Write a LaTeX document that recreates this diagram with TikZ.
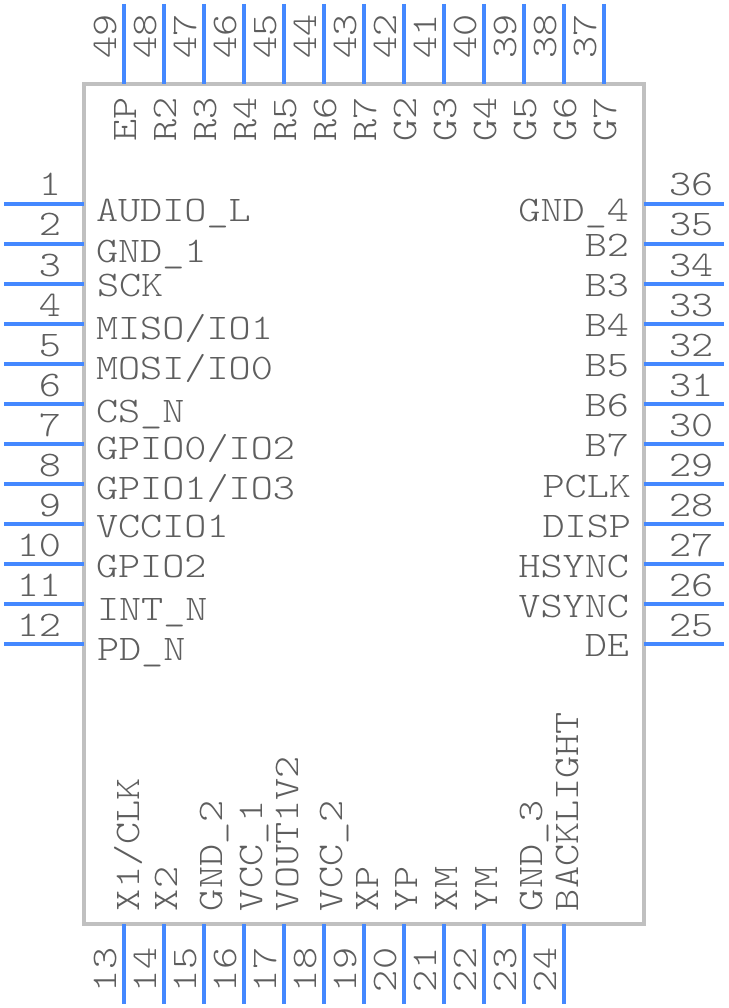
\documentclass[tikz,border=0pt]{standalone}
\usepackage{fontspec}
\setmonofont[FakeStretch=1.17]{Latin Modern Mono Light}
\definecolor{pinblue}{HTML}{4488FF}
\definecolor{bodygrey}{HTML}{C0C0C0}
\definecolor{txtgrey}{HTML}{5E5E5E}
\tikzset{
  pinline/.style={draw=pinblue,line width=4pt},
  bodybox/.style={draw=bodygrey,line width=4pt},
  lbl/.style={inner sep=0pt,outer sep=0pt,text=txtgrey,font=\fontsize{36}{36}\selectfont\ttfamily},
  lw/.style={lbl,anchor=base west},
  le/.style={lbl,anchor=base east},
  lv/.style={lbl,anchor=base west,rotate=90},
}
\begin{document}
\begin{tikzpicture}[x=1pt,y=-1pt]
\useasboundingbox (0,0) rectangle (728,1008);
\fill[white] (0,0) rectangle (728,1008);
\draw[bodybox] (84,84) rectangle (644,924);
% left pins 1-12
\foreach \n in {1,...,12}{
  \pgfmathtruncatemacro{\yy}{164+40*\n}
  \coordinate (la\n) at (4,\yy); \coordinate (lb\n) at (84,\yy);
  \draw[pinline] (la\n) -- (lb\n);
  \node[le] (ln\n) at (61,\yy-8) {\n};
}
% right pins 36-25
\foreach \n in {1,...,12}{
  \pgfmathtruncatemacro{\yy}{164+40*\n}
  \pgfmathtruncatemacro{\m}{37-\n}
  \coordinate (ra\n) at (644,\yy); \coordinate (rb\n) at (724,\yy);
  \draw[pinline] (ra\n) -- (rb\n);
  \node[lw] (rn\n) at (669,\yy-8) {\m};
}
% top pins 49-37 and bottom pins 13-24
\foreach \n in {0,...,12}{
  \pgfmathtruncatemacro{\xx}{124+40*\n}
  \pgfmathtruncatemacro{\m}{49-\n}
  \coordinate (ta\n) at (\xx,4); \coordinate (tb\n) at (\xx,84);
  \draw[pinline] (ta\n) -- (tb\n);
  \node[lv] (tn\n) at (\xx-8,59) {\m};
}
\foreach \n in {0,...,11}{
  \pgfmathtruncatemacro{\xx}{124+40*\n}
  \pgfmathtruncatemacro{\m}{13+\n}
  \coordinate (ba\n) at (\xx,924); \coordinate (bb\n) at (\xx,1004);
  \draw[pinline] (ba\n) -- (bb\n);
  \node[lv] (bn\n) at (\xx-8,992) {\m};
}
% left labels
\node[lw] (a1) at (96,222) {AUDIO\_L};
\node[lw] (a2) at (96,262) {GND\_1};
\node[lw] (a3) at (97,296) {SCK};
\node[lw] (a4) at (96,339) {MISO/IO1};
\node[lw] (a5) at (96,379) {MOSI/IO0};
\node[lw] (a6) at (96,422) {CS\_N};
\node[lw] (a7) at (96,459) {GPIO0/IO2};
\node[lw] (a8) at (96,499) {GPIO1/IO3};
\node[lw] (a9) at (96,537) {VCCIO1};
\node[lw] (a10) at (96,577) {GPIO2};
\node[lw] (a11) at (97,620) {INT\_N};
\node[lw] (a12) at (97,660) {PD\_N};
% right labels
\node[le] (b1) at (629,222) {GND\_4};
\node[le] (b2) at (629,256) {B2};
\node[le] (b3) at (629,296) {B3};
\node[le] (b4) at (629,336) {B4};
\node[le] (b5) at (629,376) {B5};
\node[le] (b6) at (629,416) {B6};
\node[le] (b7) at (629,456) {B7};
\node[le] (b8) at (631,497) {PCLK};
\node[le] (b9) at (631,537) {DISP};
\node[le] (b10) at (629,577) {HSYNC};
\node[le] (b11) at (629,617) {VSYNC};
\node[le] (b12) at (629,656) {DE};
% top labels
\foreach \n/\t in {0/EP,1/R2,2/R3,3/R4,4/R5,5/R6,6/R7,7/G2,8/G3,9/G4,10/G5,11/G6,12/G7}{
  \pgfmathtruncatemacro{\xx}{136+40*\n}
  \node[lv] (c\n) at (\xx,142) {\t};
}
% bottom labels
\node[lv] (d1) at (139,911) {X1/CLK};
\node[lv] (d2) at (177,911) {X2};
\node[lv] (d3) at (222,911) {GND\_2};
\node[lv] (d4) at (262,911) {VCC\_1};
\node[lv] (d5) at (298,911) {VOUT1V2};
\node[lv] (d6) at (342,911) {VCC\_2};
\node[lv] (d7) at (378,911) {XP};
\node[lv] (d8) at (417,911) {YP};
\node[lv] (d9) at (457,911) {XM};
\node[lv] (d10) at (497,911) {YM};
\node[lv] (d11) at (542,911) {GND\_3};
\node[lv] (d12) at (578,911) {BACKLIGHT};
\end{tikzpicture}
\end{document}
